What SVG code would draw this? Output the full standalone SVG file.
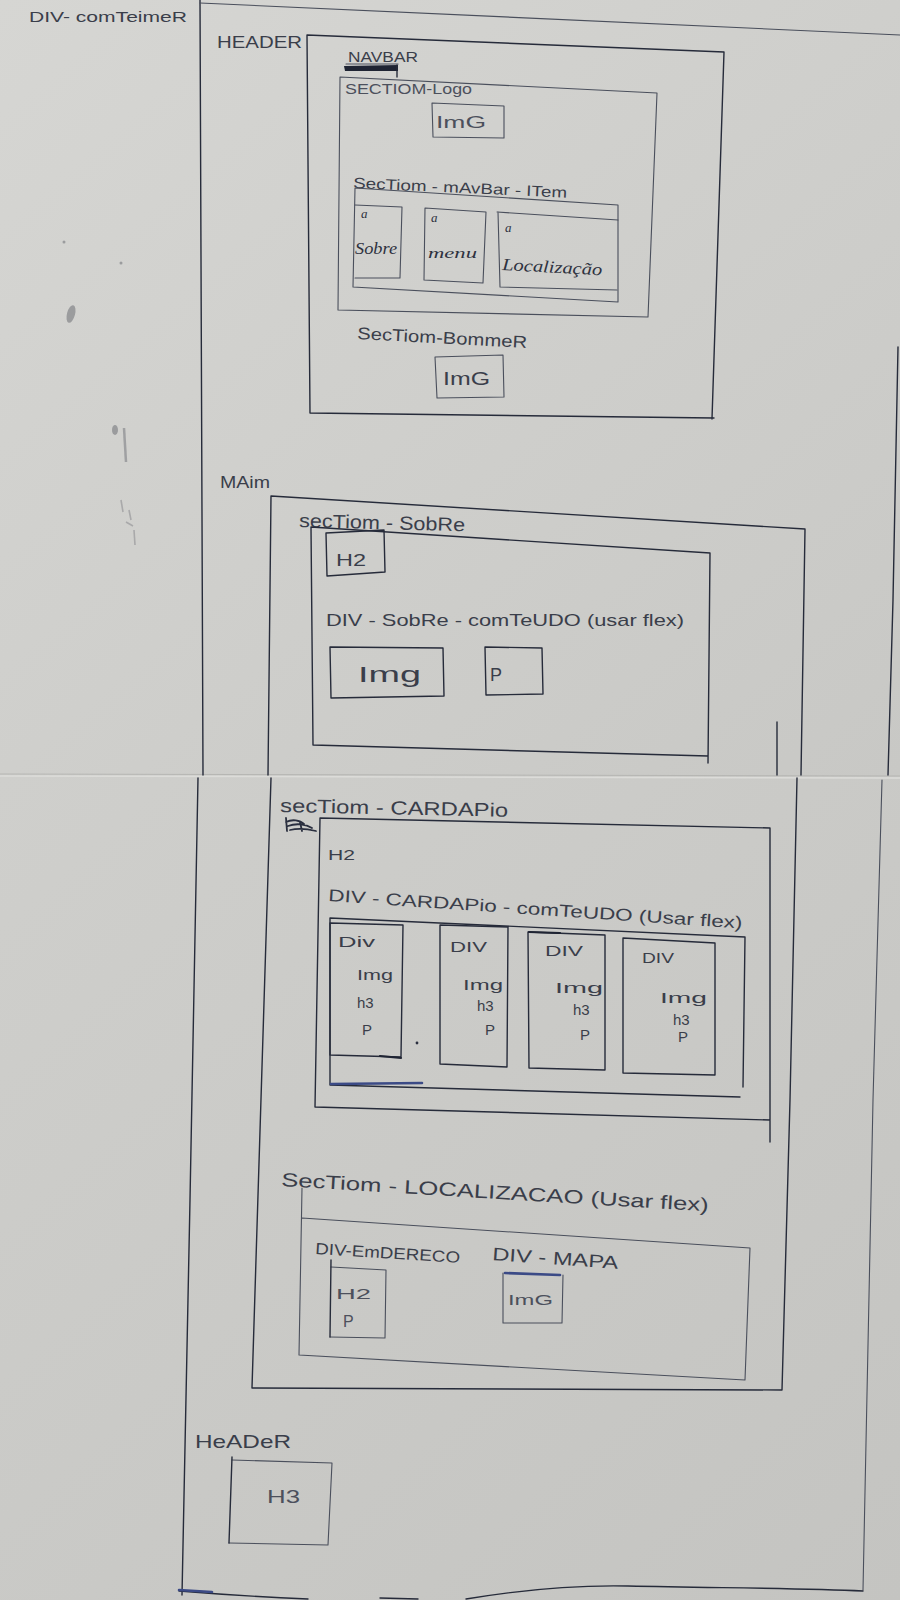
<svg xmlns="http://www.w3.org/2000/svg" width="900" height="1600" viewBox="0 0 900 1600">
  <defs>
    <linearGradient id="sheetTop" x1="0" y1="0" x2="1" y2="1">
      <stop offset="0" stop-color="#d6d6d3"/>
      <stop offset="1" stop-color="#c8c8c5"/>
    </linearGradient>
    <linearGradient id="sheetBottom" x1="0" y1="0" x2="1" y2="1">
      <stop offset="0" stop-color="#cfcfcc"/>
      <stop offset="1" stop-color="#c4c4c1"/>
    </linearGradient>
    <style>
      .ink { fill: none; stroke: #262b3a; stroke-width: 1.4; stroke-linecap: round; stroke-linejoin: round; }
      .pencil { fill: none; stroke: #4a4f5c; stroke-width: 1.1; stroke-linecap: round; stroke-linejoin: round; }
      .heavy { fill: none; stroke: #1f2433; stroke-width: 2.2; stroke-linecap: round; }
      .blue { fill: none; stroke: #3b4a86; stroke-width: 2.6; stroke-linecap: round; }
      .t { font-family: "Liberation Sans", Arial, sans-serif; fill: #3a3e4a; }
      .tl { font-family: "Liberation Sans", Arial, sans-serif; fill: #4c505c; }
      .cur { font-family: "Liberation Serif", "Times New Roman", serif; font-style: italic; fill: #2e3240; }
      .smudge { fill: #6d6f75; opacity: 0.55; }
    </style>
  </defs>

  <!-- paper sheets -->
  <rect x="0" y="0" width="900" height="1600" fill="#cacac7"/>
  <rect x="0" y="0" width="900" height="776" fill="url(#sheetTop)"/>
  <rect x="0" y="776" width="900" height="824" fill="url(#sheetBottom)"/>
  <line x1="0" y1="776" x2="900" y2="778" stroke="#dcdcd9" stroke-width="1.5"/>
  <line x1="0" y1="774" x2="900" y2="776" stroke="#b6b6b3" stroke-width="1"/>

  <!-- stray marks on the left margin -->
  <g id="marks">
    <ellipse class="smudge" cx="71" cy="314" rx="4" ry="9" transform="rotate(15 71 314)"/>
    <ellipse class="smudge" cx="115" cy="430" rx="3" ry="5"/>
    <path d="M124,428 L126,462" stroke="#6d6f75" stroke-width="2.5" opacity="0.5" fill="none"/>
    <path d="M121,500 L123,512 M129,510 L131,520 M126,522 L133,526 M134,530 L135,545" stroke="#6d6f75" stroke-width="1.6" opacity="0.4" fill="none"/>
    <circle class="smudge" cx="64" cy="242" r="1.5"/>
    <circle class="smudge" cx="121" cy="263" r="1.5"/>
  </g>

  <!-- DIV container -->
  <g id="div-container">
    <path class="ink" d="M200,0 L203,775"/>
    <path class="pencil" d="M200,3 L900,35"/>
    <path class="ink" d="M898,347 L893,600 L888,775"/>
    <path class="ink" d="M198,778 L190,1200 L182,1595"/>
    <path class="pencil" d="M882,780 L873,1100 L863,1590"/>
    <path class="ink" d="M179,1591 Q240,1596 308,1599 M380,1598 L418,1599 M466,1599 C520,1590 580,1585 628,1586 C720,1588 800,1588 863,1591"/>
    <path class="blue" d="M179,1590 L212,1592"/>
    <text class="t" x="29" y="22" font-size="15" textLength="158" lengthAdjust="spacingAndGlyphs">DIV- comTeimeR</text>
  </g>

  <!-- HEADER -->
  <g id="header">
    <text class="t" x="217" y="48" font-size="16" textLength="85" lengthAdjust="spacingAndGlyphs">HEADER</text>
    <path class="ink" d="M307,35 L724,52 L712,419 M307,35 L310,413 L714,418"/>
  </g>

  <g id="navbar">
    <text class="t" x="348" y="62" font-size="15" textLength="70" lengthAdjust="spacingAndGlyphs">NAVBAR</text>
    <path class="pencil" d="M346,64 L398,64"/>
    <path d="M344,66 L398,65 L398,71 L345,71 Z" fill="#1f2433"/>
    <path class="ink" d="M397,65 L397,77"/>
  </g>

  <g id="section-logo">
    <path class="pencil" d="M340,77 L657,93 L648,317 L338,310 Z"/>
    <text class="tl" x="345" y="94" font-size="14" textLength="127" lengthAdjust="spacingAndGlyphs">SECTIOM-Logo</text>
  </g>

  <g id="logo-img">
    <path class="pencil" d="M432,103 L504,106 L504,138 L433,137 Z"/>
    <text class="tl" x="436" y="128" font-size="16" textLength="50" lengthAdjust="spacingAndGlyphs">ImG</text>
  </g>

  <g id="section-navbar-item">
    <text class="t" x="353" y="188" font-size="15" textLength="214" lengthAdjust="spacingAndGlyphs" transform="rotate(2.6 353 188)">SecTiom - mAvBar - ITem</text>
    <path class="pencil" d="M355,188 L618,205 L618,302 L353,287 Z"/>
  </g>

  <g id="item-sobre">
    <path class="pencil" d="M355,205 L402,207 L400,278 L355,278"/>
    <text class="cur" x="361" y="218" font-size="13">a</text>
    <text class="cur" x="355" y="254" font-size="16" textLength="42" lengthAdjust="spacingAndGlyphs">Sobre</text>
  </g>

  <g id="item-menu">
    <path class="pencil" d="M425,208 L486,212 L483,283 L424,280 Z"/>
    <text class="cur" x="431" y="222" font-size="13">a</text>
    <text class="cur" x="428" y="258" font-size="15" textLength="49" lengthAdjust="spacingAndGlyphs">menu</text>
  </g>

  <g id="item-localizacao">
    <path class="pencil" d="M497,212 L618,220 M498,212 L500,287 L617,290"/>
    <text class="cur" x="505" y="232" font-size="13">a</text>
    <text class="cur" x="502" y="270" font-size="17" textLength="100" lengthAdjust="spacingAndGlyphs" transform="rotate(3 502 270)">Localização</text>
  </g>

  <g id="section-banner">
    <text class="t" x="357" y="339" font-size="17" textLength="170" lengthAdjust="spacingAndGlyphs" transform="rotate(3 357 339)">SecTiom-BommeR</text>
  </g>

  <g id="banner-img">
    <path class="pencil" d="M435,357 L503,355 L504,397 L437,398 Z"/>
    <text class="t" x="443" y="385" font-size="18" textLength="47" lengthAdjust="spacingAndGlyphs">ImG</text>
  </g>

  <!-- MAIN -->
  <g id="main">
    <text class="t" x="220" y="488" font-size="16" textLength="50" lengthAdjust="spacingAndGlyphs">MAim</text>
    <path class="ink" d="M271,496 L805,529 M271,496 L268,775 M805,529 L801,775"/>
    <path class="ink" d="M777,722 L777,775"/>
    <path class="ink" d="M271,778 L252,1388 L782,1390 M797,778 L790,1100 L782,1390"/>
  </g>

  <g id="section-sobre">
    <text class="t" x="299" y="527" font-size="19" textLength="166" lengthAdjust="spacingAndGlyphs" transform="rotate(1.5 299 527)">secTiom - SobRe</text>
    <path class="ink" d="M311,527 L710,553 L708,763 M311,527 L313,745 L708,756"/>
  </g>

  <g id="sobre-h2">
    <path class="ink" d="M326,533 L384,530 L385,572 L327,576 Z"/>
    <text class="t" x="336" y="566" font-size="16" textLength="30" lengthAdjust="spacingAndGlyphs">H2</text>
  </g>

  <g id="div-sobre-conteudo">
    <text class="t" x="326" y="626" font-size="17" textLength="358" lengthAdjust="spacingAndGlyphs">DIV - SobRe - comTeUDO (usar flex)</text>
  </g>

  <g id="sobre-img">
    <path class="ink" d="M330,647 L443,648 L444,696 L331,698 Z"/>
    <text class="t" x="358" y="682" font-size="22" textLength="63" lengthAdjust="spacingAndGlyphs">Img</text>
  </g>

  <g id="sobre-p">
    <path class="ink" d="M485,647 L542,648 L543,694 L486,695 Z"/>
    <text class="t" x="490" y="681" font-size="18">P</text>
  </g>

  <g id="section-cardapio">
    <text class="t" x="280" y="812" font-size="19" textLength="228" lengthAdjust="spacingAndGlyphs" transform="rotate(1.2 280 812)">secTiom - CARDAPio</text>
    <!-- crossed-out heading scribble -->
    <path d="M286,818 L287,831 M286,822 C292,819 300,820 304,824 M288,826 C296,823 306,824 312,828 M290,830 C298,828 308,829 316,831 M300,822 L302,831" fill="none" stroke="#2a2f3f" stroke-width="1.8" stroke-linecap="round"/>
    <path class="ink" d="M320,818 L770,828 L770,1142 M320,818 L315,1107 L770,1120"/>
    <text class="t" x="328" y="860" font-size="15" textLength="27" lengthAdjust="spacingAndGlyphs">H2</text>
  </g>

  <g id="div-cardapio-conteudo">
    <text class="t" x="328" y="901" font-size="17" textLength="415" lengthAdjust="spacingAndGlyphs" transform="rotate(3.8 328 901)">DIV - CARDAPio - comTeUDO (Usar flex)</text>
    <path class="ink" d="M330,918 L745,937 L743,1087 M330,918 L330,1085 L740,1097"/>
    <path class="blue" d="M331,1084 L422,1083"/>
    <circle cx="417" cy="1043" r="1.4" fill="#2a2f3f"/>
  </g>

  <g id="card-1">
    <path class="ink" d="M330,923 L403,925 L401,1057 L330,1055 Z"/>
    <path class="heavy" d="M380,1056 L401,1058"/>
    <text class="t" x="338" y="947" font-size="15" textLength="37" lengthAdjust="spacingAndGlyphs">Div</text>
    <text class="t" x="357" y="980" font-size="14" textLength="36" lengthAdjust="spacingAndGlyphs">Img</text>
    <text class="t" x="357" y="1008" font-size="15">h3</text>
    <text class="t" x="362" y="1035" font-size="15">P</text>
  </g>

  <g id="card-2">
    <path class="ink" d="M440,925 L508,927 L507,1067 L440,1064 Z"/>
    <text class="t" x="450" y="952" font-size="15" textLength="37" lengthAdjust="spacingAndGlyphs">DIV</text>
    <text class="t" x="463" y="990" font-size="15" textLength="40" lengthAdjust="spacingAndGlyphs">Img</text>
    <text class="t" x="477" y="1011" font-size="15">h3</text>
    <text class="t" x="485" y="1035" font-size="15">P</text>
  </g>

  <g id="card-3">
    <path class="ink" d="M528,932 L605,935 L605,1070 L529,1068 Z"/>
    <path class="heavy" d="M529,932 L560,933"/>
    <text class="t" x="545" y="956" font-size="15" textLength="38" lengthAdjust="spacingAndGlyphs">DIV</text>
    <text class="t" x="555" y="993" font-size="15" textLength="48" lengthAdjust="spacingAndGlyphs">Img</text>
    <text class="t" x="573" y="1015" font-size="15">h3</text>
    <text class="t" x="580" y="1040" font-size="15">P</text>
  </g>

  <g id="card-4">
    <path class="ink" d="M623,938 L715,943 L715,1075 L623,1073 Z"/>
    <text class="t" x="642" y="963" font-size="15" textLength="32" lengthAdjust="spacingAndGlyphs">DIV</text>
    <text class="t" x="660" y="1003" font-size="15" textLength="47" lengthAdjust="spacingAndGlyphs">Img</text>
    <text class="t" x="673" y="1025" font-size="15">h3</text>
    <text class="t" x="678" y="1042" font-size="15">P</text>
  </g>

  <g id="section-localizacao">
    <text class="t" x="281" y="1186" font-size="19" textLength="428" lengthAdjust="spacingAndGlyphs" transform="rotate(3.4 281 1186)">SecTiom - LOCALIZACAO (Usar flex)</text>
    <path class="pencil" d="M302,1188 L299,1355 L745,1380 L750,1248 L302,1218"/>
  </g>

  <g id="div-endereco">
    <text class="t" x="315" y="1254" font-size="16" textLength="145" lengthAdjust="spacingAndGlyphs" transform="rotate(3.5 315 1254)">DIV-EmDERECO</text>
    <path class="pencil" d="M331,1267 L386,1270 L385,1338 L330,1337"/>
    <path class="ink" d="M331,1260 L330,1337"/>
    <text class="tl" x="336" y="1299" font-size="15" textLength="35" lengthAdjust="spacingAndGlyphs">H2</text>
    <text class="tl" x="343" y="1327" font-size="16">P</text>
  </g>

  <g id="div-mapa">
    <text class="t" x="492" y="1260" font-size="18" textLength="126" lengthAdjust="spacingAndGlyphs" transform="rotate(4 492 1260)">DIV - MAPA</text>
    <path class="pencil" d="M503,1273 L503,1323 L562,1323 L563,1275"/>
    <path class="blue" d="M505,1273 L560,1275" stroke-width="2"/>
    <text class="tl" x="508" y="1305" font-size="14" textLength="45" lengthAdjust="spacingAndGlyphs">ImG</text>
  </g>

  <!-- footer -->
  <g id="footer">
    <text class="t" x="195" y="1448" font-size="19" textLength="96" lengthAdjust="spacingAndGlyphs">HeADeR</text>
    <path class="pencil" d="M232,1460 L332,1463 L328,1545 L229,1543"/>
    <path class="ink" d="M232,1457 L229,1543"/>
    <text class="tl" x="267" y="1503" font-size="19" textLength="33" lengthAdjust="spacingAndGlyphs">H3</text>
  </g>
</svg>
